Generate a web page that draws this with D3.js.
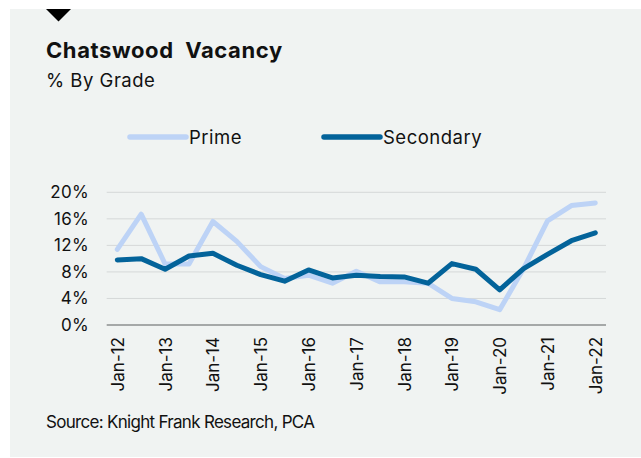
<!DOCTYPE html>
<html>
<head>
<meta charset="utf-8">
<script src="https://cdn.jsdelivr.net/npm/d3@7"></script>
<style>
  body { margin: 0; background: #ffffff; }
  svg { display: block; font-family: Inter, "Liberation Sans", Arial, sans-serif; }
</style>
</head>
<body>
<script>
// half-yearly periods, Jan-12 .. Jan-22
let periods = ["Jan-12","Jul-12","Jan-13","Jul-13","Jan-14","Jul-14","Jan-15","Jul-15",
    "Jan-16","Jul-16","Jan-17","Jul-17","Jan-18","Jul-18","Jan-19","Jul-19",
    "Jan-20","Jul-20","Jan-21","Jul-21","Jan-22"];

let prime = [11.4, 16.7, 9.2, 9.2, 15.6, 12.6, 8.8, 7.0, 7.5, 6.3,
    8.1, 6.5, 6.5, 6.3, 4.0, 3.5, 2.3, 8.5, 15.7, 18.0, 18.4];

let secondary = [9.8, 10.0, 8.4, 10.4, 10.8, 9.0, 7.6, 6.6, 8.3, 7.1,
    7.5, 7.3, 7.25, 6.3, 9.25, 8.4, 5.3, 8.5, 10.65, 12.7, 13.9];

let yTicks = [0, 4, 8, 12, 16, 20];

let seriesNames = ["Prime", "Secondary"];
let seriesColors = ["#bdd3f6", "#03639a"];

function main() {
    let svg = d3.select("body").append("svg")
        .attr("width", 641)
        .attr("height", 458);

    // panel
    svg.append("rect")
        .attr("x", 10).attr("y", 9)
        .attr("width", 631).attr("height", 448)
        .attr("fill", "#f0f3f2");

    // little black marker at the top
    svg.append("path")
        .attr("d", "M46,9 L71,9 L58.5,21.5 Z")
        .attr("fill", "#000");

    svg.append("text")
        .attr("x", 46).attr("y", 58)
        .style("font-size", "22px")
        .style("font-weight", "700")
        .style("letter-spacing", "0.6px")
        .attr("fill", "#111")
        .text("Chatswood\u00a0\u00a0Vacancy");

    svg.append("text")
        .attr("x", 46).attr("y", 87)
        .style("font-size", "18.5px")
        .style("letter-spacing", "0.5px")
        .attr("fill", "#111")
        .text("% By Grade");

    // legend
    let legendX = [130, 324];
    seriesNames.forEach(function(name, i) {
        let g = svg.append("g").attr("transform", `translate(${legendX[i]},137)`);
        g.append("line")
            .attr("x1", 0).attr("x2", 56)
            .attr("stroke", seriesColors[i])
            .attr("stroke-width", 5.5)
            .attr("stroke-linecap", "round");
        g.append("text")
            .attr("x", 59).attr("y", 6.5)
            .style("font-size", "18.5px")
            .style("letter-spacing", "0.5px")
            .attr("fill", "#111")
            .text(name);
    });

    let xScale = d3.scaleLinear().domain([0, periods.length - 1]).range([117.3, 595.3]);
    let yScale = d3.scaleLinear().domain([0, 20]).range([325, 192.3]);

    // gridlines
    svg.append("g")
        .selectAll("line")
        .data(yTicks.filter(d => d > 0))
        .enter()
        .append("line")
        .attr("x1", 106.7).attr("x2", 606)
        .attr("y1", d => yScale(d)).attr("y2", d => yScale(d))
        .attr("stroke", "#d5d8d8")
        .attr("stroke-width", 1);

    // y axis labels
    let yAxis = d3.axisLeft(yScale).tickValues(yTicks).tickFormat(d => d + "%").tickSize(0).tickPadding(0);
    let gy = svg.append("g")
        .attr("transform", "translate(89,0)")
        .call(yAxis);
    gy.select(".domain").remove();
    gy.selectAll("text")
        .style("font-size", "17px")
        .style("letter-spacing", "0.3px")
        .style("font-family", "Inter, 'Liberation Sans', Arial, sans-serif")
        .attr("fill", "#111");

    // x axis
    let janIdx = periods.map((p, i) => i).filter(i => periods[i].startsWith("Jan"));
    let xAxis = d3.axisBottom(xScale).tickValues(janIdx).tickFormat(i => periods[i]).tickSize(0).tickPadding(0);
    let gx = svg.append("g")
        .attr("transform", `translate(0,${yScale(0)})`)
        .call(xAxis);
    gx.select(".domain").remove();
    gx.selectAll("text")
        .attr("transform", "rotate(-90)")
        .attr("x", -12)
        .attr("y", 0)
        .attr("dy", "0.35em")
        .attr("text-anchor", "end")
        .style("font-size", "17px")
        .style("font-family", "Inter, 'Liberation Sans', Arial, sans-serif")
        .attr("fill", "#111");

    svg.append("line")
        .attr("x1", 106.7).attr("x2", 606)
        .attr("y1", yScale(0)).attr("y2", yScale(0))
        .attr("stroke", "#8c8f8f")
        .attr("stroke-width", 1.5);

    // lines
    let line = d3.line().x((d, i) => xScale(i)).y(d => yScale(d));
    [prime, secondary].forEach(function(values, k) {
        svg.append("path")
            .datum(values)
            .attr("d", line)
            .attr("fill", "none")
            .attr("stroke", seriesColors[k])
            .attr("stroke-width", 5)
            .attr("stroke-linejoin", "round")
            .attr("stroke-linecap", "round");
    });

    svg.append("text")
        .attr("x", 46).attr("y", 428)
        .style("font-size", "17px")
        .style("letter-spacing", "-0.7px")
        .attr("fill", "#111")
        .text("Source: Knight Frank Research, PCA");
}

main()
</script>
</body>
</html>
